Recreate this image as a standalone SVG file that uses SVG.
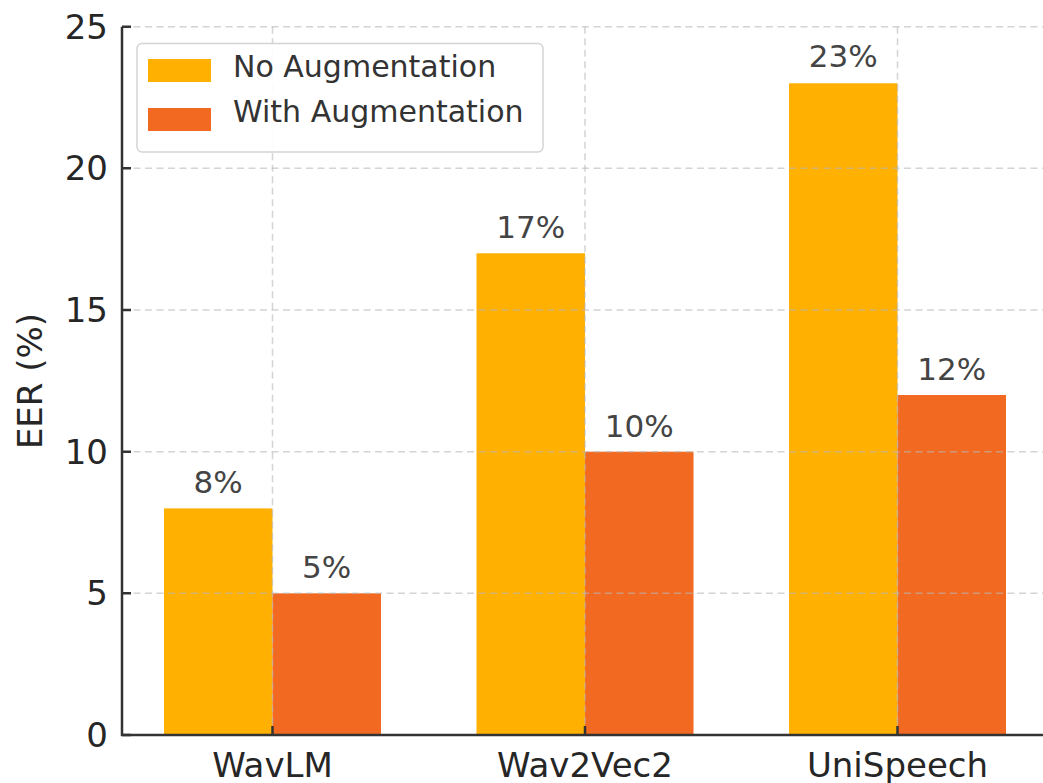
<svg xmlns="http://www.w3.org/2000/svg" width="1043" height="783" viewBox="0 0 1043 783">
<style>
.t{font-family:"DejaVu Sans",sans-serif;}
.tick{font-size:34px;fill:#262626;}
.val{font-size:31px;fill:#444;text-anchor:middle;}
.leg{font-size:30px;fill:#333;}
.grid{stroke:#b8b8b8;stroke-opacity:0.6;stroke-width:1.5;stroke-dasharray:7 4.5;fill:none;}
.no{fill:#FFB000;}
.with{fill:#F26A22;}
.ax{stroke:#333;stroke-width:2.5;fill:none;}
</style>
<rect width="1043" height="783" fill="#fff"/>
<g id="bars">
<rect class="no" x="164" y="508.4" width="108.5" height="226.6"/>
<rect class="with" x="272.5" y="593.3" width="108.5" height="141.7"/>
<rect class="no" x="476.5" y="253.3" width="108.5" height="481.7"/>
<rect class="with" x="585" y="451.7" width="108.5" height="283.3"/>
<rect class="no" x="789" y="83.3" width="108.5" height="651.7"/>
<rect class="with" x="897.5" y="395" width="108.5" height="340"/>
</g>
<g id="grid">
<path class="grid" d="M122 735H1043M122 593.3H1043M122 451.7H1043M122 310H1043M122 168.3H1043M122 26.7H1043"/>
<path class="grid" d="M272.5 26.7V735M585 26.7V735M897.5 26.7V735"/>
</g>
<g id="axes">
<path class="ax" d="M122 26.7V736M121 735H1043"/>
<path class="ax" d="M122 735H131M122 593.3H131M122 451.7H131M122 310H131M122 168.3H131M122 26.7H131M272.5 735V726M585 735V726M897.5 735V726"/>
</g>
<g id="yticks" class="t tick" text-anchor="end">
<text x="108" y="747">0</text>
<text x="108" y="605.3">5</text>
<text x="108" y="463.7">10</text>
<text x="108" y="322">15</text>
<text x="108" y="180.3">20</text>
<text x="108" y="38.7">25</text>
</g>
<g id="xticks" class="t tick" text-anchor="middle">
<text x="272.5" y="777">WavLM</text>
<text x="585" y="777">Wav2Vec2</text>
<text x="897.5" y="777">UniSpeech</text>
</g>
<text id="ylabel" class="t tick" text-anchor="middle" transform="translate(42 381) rotate(-90)">EER (%)</text>
<g id="values" class="t val">
<text x="218.2" y="493">8%</text>
<text x="326.7" y="578">5%</text>
<text x="530.7" y="238">17%</text>
<text x="639.2" y="436.5">10%</text>
<text x="843.2" y="67">23%</text>
<text x="951.7" y="379.5">12%</text>
</g>
<g id="legend">
<rect x="137" y="43.5" width="406" height="108.5" rx="5" fill="#fff" fill-opacity="0.9" stroke="#d4d4d4" stroke-width="1.5"/>
<rect class="no" x="148" y="59" width="63" height="23"/>
<rect class="with" x="148" y="108" width="63" height="23"/>
<text class="t leg" x="233" y="77">No Augmentation</text>
<text class="t leg" x="233" y="122">With Augmentation</text>
</g>
</svg>
